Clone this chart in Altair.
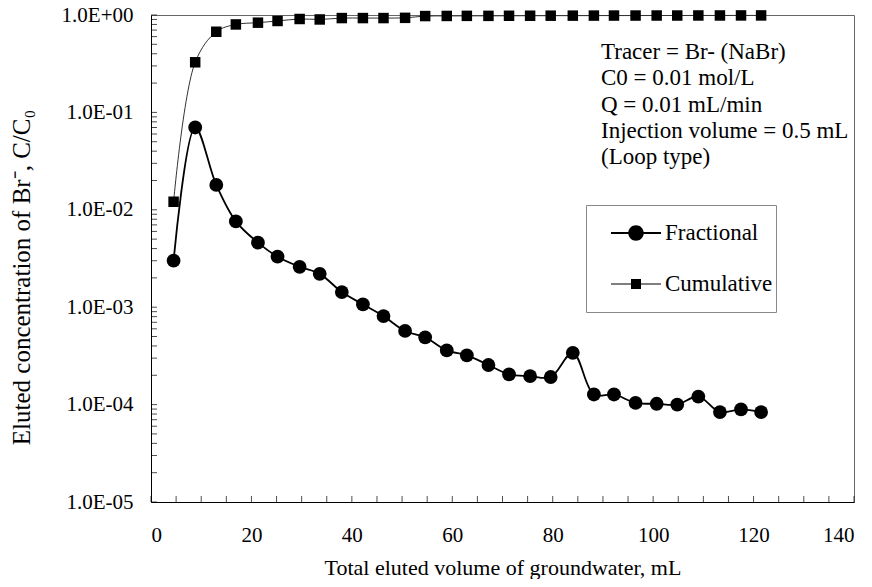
import altair as alt
import pandas as pd

volume = [4.5, 8.8, 13.0, 16.9, 21.3, 25.2, 29.6, 33.6, 38.0, 42.2, 46.3, 50.6, 54.6, 58.9,
          62.9, 67.2, 71.3, 75.5, 79.6, 84.0, 88.2, 92.2, 96.5, 100.7, 104.8, 109.0, 113.3,
          117.5, 121.5]
fractional = [0.0030, 0.070, 0.018, 0.0076, 0.0046, 0.0033, 0.0026, 0.0022, 0.00143, 0.00107,
              0.00081, 0.00057, 0.00049, 0.00036, 0.00032, 0.000255, 0.000204, 0.000196,
              0.000192, 0.00034, 0.000127, 0.000127, 0.000104, 0.000102, 0.0001, 0.000121,
              0.0000838, 0.0000893, 0.0000838]
cumulative = [0.0121, 0.327, 0.673, 0.80, 0.834, 0.868, 0.91, 0.90, 0.93, 0.93, 0.93, 0.935,
              0.975, 0.978, 0.98, 0.98, 0.982, 0.983, 0.984, 0.985, 0.986, 0.987, 0.987,
              0.988, 0.988, 0.989, 0.989, 0.99, 0.99]
series_names = ["Fractional", "Cumulative"]
x_ticks = list(range(0, 141, 5))
x_labels = list(range(0, 141, 20))
y_labels = [1e-5, 1e-4, 1e-3, 1e-2, 1e-1, 1.0]
y_minor = [k * 10.0 ** e for e in range(-5, 0) for k in range(1, 10)] + [1.0]
notes = ["Tracer = Br- (NaBr)", "C0 = 0.01 mol/L", "Q = 0.01 mL/min",
         "Injection volume = 0.5 mL", "(Loop type)"]

FONT = "Liberation Serif"
W, H = 703, 487

df = pd.DataFrame({
    "v": volume * 2,
    "c": fractional + cumulative,
    "s": ["Fractional"] * len(volume) + ["Cumulative"] * len(volume),
})

xs = alt.Scale(domain=[0, 140], nice=False)
ys = alt.Scale(type="log", domain=[1e-5, 1], nice=False)

xax = alt.Axis(values=x_labels, ticks=False, grid=False, domainColor="black", domainWidth=1,
               labelFont=FONT, labelFontSize=21, labelColor="black", labelPadding=22,
               title="Total eluted volume of groundwater, mL", titleFont=FONT,
               titleFontSize=22, titleFontWeight="normal", titleColor="black", titlePadding=12)
yax = alt.Axis(values=y_labels, ticks=False, grid=False, domainColor="black", domainWidth=1,
               labelFont=FONT, labelFontSize=21, labelColor="black", labelPadding=18,
               labelExpr="'1.0E' + (datum.value >= 1 ? '+00' : '-0' + format(-log(datum.value)/LN10, '.0f'))",
               title="Eluted concentration of Br⁻, C/C₀", titleFont=FONT, titleFontSize=25,
               titleFontWeight="normal", titleColor="black", titlePadding=27, titleY=262)

base = alt.Chart(df).encode(x=alt.X("v:Q", scale=xs, axis=xax),
                            y=alt.Y("c:Q", scale=ys, axis=yax))

frac_line = base.transform_filter("datum.s == 'Fractional'").mark_line(
    interpolate="catmull-rom", color="black", strokeWidth=1.8)
cum_line = base.transform_filter("datum.s == 'Cumulative'").mark_line(
    interpolate="catmull-rom", color="#333", strokeWidth=1.0)
frac_pts = base.transform_filter("datum.s == 'Fractional'").mark_point(
    shape="circle", filled=True, color="black", size=190, opacity=1)
cum_pts = base.transform_filter("datum.s == 'Cumulative'").mark_point(
    shape="square", filled=True, color="black", size=110, opacity=1)

# legend glyphs: line segments drawn as thin filled bars, plus the marker
circ_path = ("M-1,-0.04H-0.3V0.04H-1Z M0.3,-0.04H1V0.04H0.3Z "
             "M0.31,0A0.31,0.31,0,1,1,-0.31,0A0.31,0.31,0,1,1,0.31,0Z")
sq_path = ("M-1,-0.02H-0.2V0.02H-1Z M0.2,-0.02H1V0.02H0.2Z "
           "M-0.2,-0.2L0.2,-0.2L0.2,0.2L-0.2,0.2Z")
legend_layer = base.transform_filter("false").mark_point(
    filled=True, color="black", opacity=1).encode(
    shape=alt.Shape("s:N", scale=alt.Scale(domain=series_names, range=[circ_path, sq_path]),
                    legend=alt.Legend(title="\u2014" * 35, titleOrient="bottom", titleFontSize=6,
                                      titleColor="white", titlePadding=7,
                                      orient="none", legendX=435, legendY=190,
                                      symbolSize=2500, symbolFillColor="black",
                                      symbolStrokeWidth=0, symbolOpacity=1, symbolOffset=22,
                                      padding=3, rowPadding=14, labelFont=FONT,
                                      labelFontSize=23, labelColor="black", labelOffset=4,
                                      strokeColor="#888", fillColor="white")),
)

xt = alt.Chart(pd.DataFrame({"t": x_ticks})).mark_tick(color="black", size=6, thickness=1).encode(
    x=alt.X("t:Q", scale=xs), y=alt.value(H - 3))
yt = alt.Chart(pd.DataFrame({"t": y_minor})).mark_tick(color="black", size=6, thickness=1).encode(
    y=alt.Y("t:Q", scale=ys), x=alt.value(3))

note = alt.Chart(pd.DataFrame({"t": [notes]})).mark_text(
    align="left", baseline="alphabetic", font=FONT, fontSize=23, color="black",
    lineHeight=26.3).encode(text="t", x=alt.value(450), y=alt.value(44))

chart = alt.layer(cum_line, frac_line, cum_pts, frac_pts, legend_layer, xt, yt, note).resolve_scale(
    shape="independent"
).properties(
    width=W, height=H, autosize=alt.AutoSizeParams(type="none"),
    padding={"left": 143, "top": 7, "right": 5, "bottom": 77},
).configure(background="white", font=FONT).configure_view(stroke="#666", strokeWidth=1)

chart.save("out.html", embed_options={"renderer": "svg", "actions": False})
